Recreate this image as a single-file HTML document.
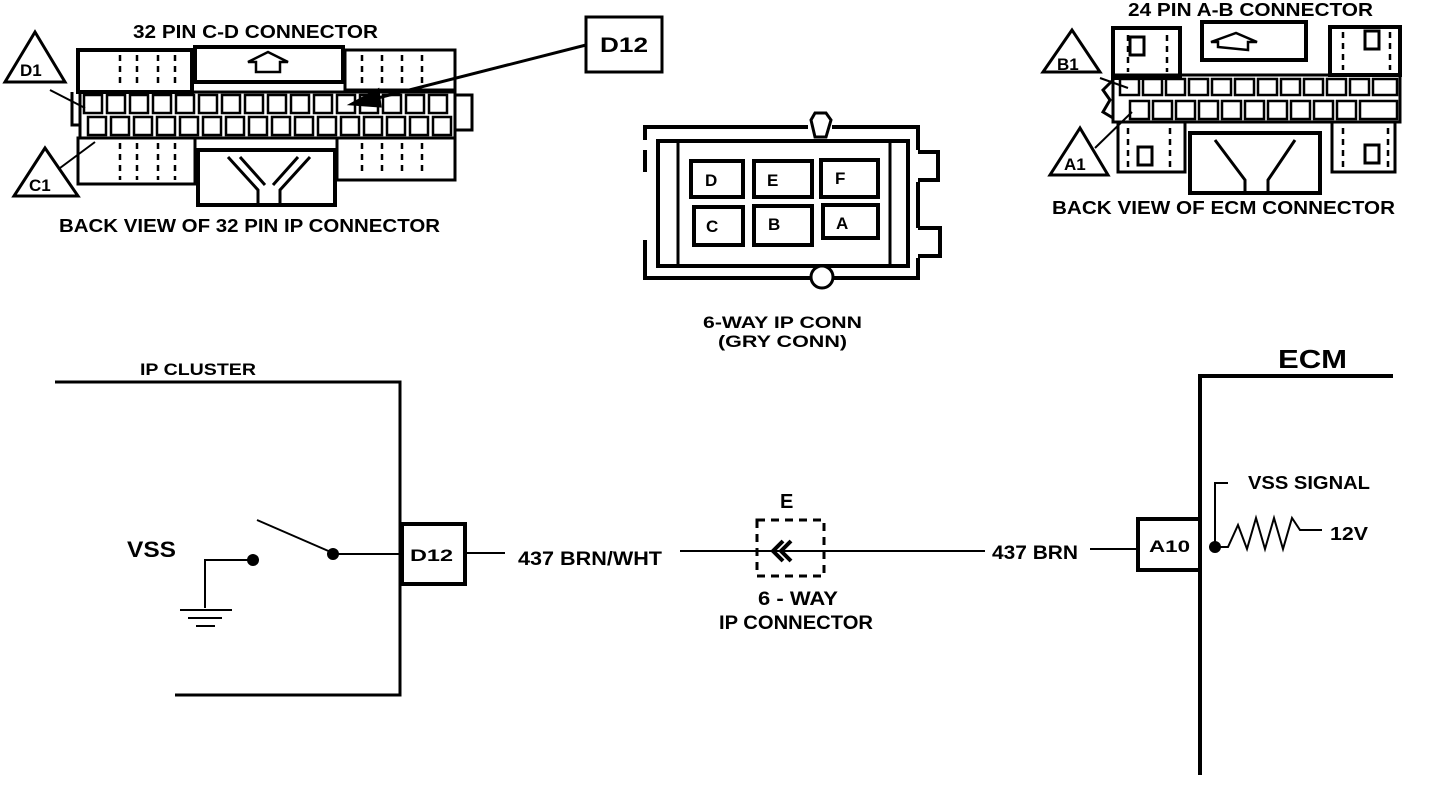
<!DOCTYPE html>
<html><head><meta charset="utf-8"><style>
html,body{margin:0;padding:0;background:#fff;}
svg{display:block;}
text{font-family:"Liberation Sans",sans-serif;font-weight:bold;fill:#000;}
</style></head><body>
<svg width="1456" height="794" viewBox="0 0 1456 794" xmlns="http://www.w3.org/2000/svg">
<g fill="none" stroke="#000" stroke-width="3">
<!-- LEFT CONNECTOR -->
<polygon points="35,32 5,82 65,82" stroke-width="3"/>
<polygon points="45,148 14,196 78,196"/>
<rect x="78" y="50" width="114" height="42" stroke-width="4"/>
<rect x="195" y="47" width="148" height="35" stroke-width="4"/>
<rect x="345" y="50" width="110" height="40"/>
<rect x="80" y="92" width="375" height="46"/>
<path d="M455,95 L472,95 L472,130 L455,130"/>
<path d="M72,92 L72,125 L80,125"/>
<rect x="78" y="138" width="117" height="46"/>
<rect x="337" y="138" width="118" height="42"/>
<rect x="198" y="150" width="137" height="55" stroke-width="4"/>
<path d="M228,157 L258,190 L258,204 M310,157 L280,190 L280,204 M240,157 L265,185 M298,157 L273,185" stroke-width="3"/>
<path d="M256,72 L256,62 L248,62 L268,52 L288,62 L280,62 L280,72 Z" stroke-width="2.5"/>
<g stroke-width="2.5" stroke-dasharray="6,5">
<line x1="120" y1="55" x2="120" y2="88"/><line x1="137" y1="55" x2="137" y2="88"/><line x1="158" y1="55" x2="158" y2="88"/><line x1="175" y1="55" x2="175" y2="88"/>
<line x1="362" y1="55" x2="362" y2="88"/><line x1="382" y1="55" x2="382" y2="88"/><line x1="402" y1="55" x2="402" y2="88"/><line x1="422" y1="55" x2="422" y2="88"/>
<line x1="120" y1="143" x2="120" y2="180"/><line x1="137" y1="143" x2="137" y2="180"/><line x1="158" y1="143" x2="158" y2="180"/><line x1="175" y1="143" x2="175" y2="180"/>
<line x1="362" y1="143" x2="362" y2="176"/><line x1="382" y1="143" x2="382" y2="176"/><line x1="402" y1="143" x2="402" y2="176"/><line x1="422" y1="143" x2="422" y2="176"/>
</g>
<g stroke-width="2.5">
<rect x="84" y="95" width="18" height="18"/><rect x="107" y="95" width="18" height="18"/><rect x="130" y="95" width="18" height="18"/><rect x="153" y="95" width="18" height="18"/><rect x="176" y="95" width="18" height="18"/><rect x="199" y="95" width="18" height="18"/><rect x="222" y="95" width="18" height="18"/><rect x="245" y="95" width="18" height="18"/><rect x="268" y="95" width="18" height="18"/><rect x="291" y="95" width="18" height="18"/><rect x="314" y="95" width="18" height="18"/><rect x="337" y="95" width="18" height="18"/><rect x="360" y="95" width="18" height="18"/><rect x="383" y="95" width="18" height="18"/><rect x="406" y="95" width="18" height="18"/><rect x="429" y="95" width="18" height="18"/>
<rect x="88" y="117" width="18" height="18"/><rect x="111" y="117" width="18" height="18"/><rect x="134" y="117" width="18" height="18"/><rect x="157" y="117" width="18" height="18"/><rect x="180" y="117" width="18" height="18"/><rect x="203" y="117" width="18" height="18"/><rect x="226" y="117" width="18" height="18"/><rect x="249" y="117" width="18" height="18"/><rect x="272" y="117" width="18" height="18"/><rect x="295" y="117" width="18" height="18"/><rect x="318" y="117" width="18" height="18"/><rect x="341" y="117" width="18" height="18"/><rect x="364" y="117" width="18" height="18"/><rect x="387" y="117" width="18" height="18"/><rect x="410" y="117" width="18" height="18"/><rect x="433" y="117" width="18" height="18"/>
</g>
<line x1="50" y1="90" x2="85" y2="108" stroke-width="2"/>
<line x1="60" y1="168" x2="95" y2="142" stroke-width="2"/>
<rect x="586" y="17" width="76" height="55" stroke-width="3"/>
<line x1="586" y1="45" x2="370" y2="100" stroke-width="3"/>
<polygon points="352,104 378,90 380,106" fill="#000"/>
<!-- RIGHT CONNECTOR -->
<polygon points="1072,30 1043,72 1100,72"/>
<polygon points="1080,128 1050,175 1108,175"/>
<rect x="1113" y="28" width="67" height="50" stroke-width="4"/>
<rect x="1202" y="22" width="104" height="38" stroke-width="4"/>
<rect x="1330" y="27" width="70" height="48" stroke-width="4"/>
<rect x="1113" y="75" width="287" height="47"/>
<path d="M1113,80 L1103,90 L1110,100 L1103,112 L1113,118"/>
<rect x="1118" y="122" width="67" height="50"/>
<rect x="1190" y="133" width="130" height="60" stroke-width="4"/>
<rect x="1332" y="122" width="63" height="50"/>
<rect x="1130" y="37" width="14" height="18"/><rect x="1365" y="31" width="14" height="18"/>
<rect x="1138" y="147" width="14" height="18"/><rect x="1365" y="145" width="14" height="18"/>
<path d="M1218,47 L1218,42 L1211,42 L1236,33 L1257,42 L1248,42 L1248,50 Z" stroke-width="2.5"/>
<path d="M1215,140 L1245,180 L1245,192 M1295,140 L1268,180 L1268,192" stroke-width="3"/>
<g stroke-width="2.5" stroke-dasharray="6,5">
<line x1="1128" y1="35" x2="1128" y2="72"/><line x1="1167" y1="35" x2="1167" y2="72"/>
<line x1="1343" y1="32" x2="1343" y2="70"/><line x1="1390" y1="32" x2="1390" y2="70"/>
<line x1="1128" y1="128" x2="1128" y2="168"/><line x1="1170" y1="128" x2="1170" y2="168"/>
<line x1="1343" y1="128" x2="1343" y2="168"/><line x1="1388" y1="128" x2="1388" y2="168"/>
</g>
<g stroke-width="2.5">
<rect x="1120" y="79" width="19" height="16"/><rect x="1143" y="79" width="19" height="16"/><rect x="1166" y="79" width="19" height="16"/><rect x="1189" y="79" width="19" height="16"/><rect x="1212" y="79" width="19" height="16"/><rect x="1235" y="79" width="19" height="16"/><rect x="1258" y="79" width="19" height="16"/><rect x="1281" y="79" width="19" height="16"/><rect x="1304" y="79" width="19" height="16"/><rect x="1327" y="79" width="19" height="16"/><rect x="1350" y="79" width="19" height="16"/><rect x="1373" y="79" width="24" height="16"/>
<rect x="1130" y="101" width="19" height="18"/><rect x="1153" y="101" width="19" height="18"/><rect x="1176" y="101" width="19" height="18"/><rect x="1199" y="101" width="19" height="18"/><rect x="1222" y="101" width="19" height="18"/><rect x="1245" y="101" width="19" height="18"/><rect x="1268" y="101" width="19" height="18"/><rect x="1291" y="101" width="19" height="18"/><rect x="1314" y="101" width="19" height="18"/><rect x="1337" y="101" width="19" height="18"/><rect x="1360" y="101" width="37" height="18"/>
</g>
<line x1="1100" y1="78" x2="1128" y2="88" stroke-width="2"/>
<line x1="1095" y1="148" x2="1132" y2="112" stroke-width="2"/>
<!-- 6-WAY CONNECTOR -->
<path d="M645,140 L645,127 L808,127 M832,127 L918,127 L918,150 M918,182 L918,228 M918,258 L918,278 L834,278 M810,278 L645,278 L645,240 M645,172 L645,150" stroke-width="4"/>
<rect x="658" y="141" width="250" height="125" stroke-width="4"/>
<line x1="678" y1="141" x2="678" y2="266" stroke-width="3"/>
<line x1="890" y1="141" x2="890" y2="266" stroke-width="3"/>
<path d="M918,152 L938,152 L938,180 L918,180 M918,228 L940,228 L940,256 L918,256" stroke-width="4"/>
<path d="M811,120 L815,113 L826,113 L831,120 L826,137 L815,137 Z" stroke-width="3" fill="#fff"/>
<circle cx="822" cy="277" r="11" fill="#fff" stroke-width="3"/>
<g stroke-width="4">
<rect x="691" y="161" width="52" height="36"/><rect x="754" y="161" width="58" height="36"/><rect x="821" y="160" width="57" height="37"/>
<rect x="694" y="207" width="49" height="38"/><rect x="754" y="206" width="58" height="39"/><rect x="823" y="205" width="55" height="33"/>
</g>
<!-- BOTTOM SCHEMATIC -->
<path d="M55,382 L400,382 L400,695 L175,695" stroke-width="3"/>
<rect x="402" y="524" width="63" height="60" stroke-width="4"/>
<line x1="465" y1="553" x2="505" y2="553" stroke-width="2"/>
<line x1="680" y1="551" x2="985" y2="551" stroke-width="2"/>
<rect x="757" y="520" width="67" height="56" stroke-width="3" stroke-dasharray="8,6"/>
<path d="M783,541 L773,551 L783,561 M791,541 L781,551 L791,561" stroke-width="4"/>
<line x1="1090" y1="549" x2="1138" y2="549" stroke-width="2"/>
<rect x="1138" y="519" width="62" height="51" stroke-width="4"/>
<path d="M1393,376 L1200,376 L1200,775" stroke-width="4"/>
<path d="M1228,483 L1215,483 L1215,547 L1228,547 L1238,525 L1247,549 L1256,518 L1265,549 L1274,518 L1283,549 L1292,518 L1300,530 L1322,530" stroke-width="2"/>
<circle cx="1215" cy="547" r="6" fill="#000" stroke="none"/>
<path d="M253,560 L205,560 L205,608" stroke-width="2"/>
<line x1="180" y1="610" x2="232" y2="610" stroke-width="2"/>
<line x1="188" y1="618" x2="222" y2="618" stroke-width="2"/>
<line x1="196" y1="626" x2="215" y2="626" stroke-width="2"/>
<line x1="257" y1="520" x2="333" y2="553" stroke-width="2"/>
<line x1="333" y1="554" x2="400" y2="554" stroke-width="2"/>
<circle cx="253" cy="560" r="6" fill="#000" stroke="none"/>
<circle cx="333" cy="554" r="6" fill="#000" stroke="none"/>
</g>
<!-- TEXT -->
<g font-size="18" lengthAdjust="spacingAndGlyphs">
<text x="133" y="38" textLength="245" lengthAdjust="spacingAndGlyphs">32 PIN C-D  CONNECTOR</text>
<text x="59" y="232" textLength="381" lengthAdjust="spacingAndGlyphs">BACK VIEW OF 32 PIN IP CONNECTOR</text>
<text x="1128" y="16" textLength="245" lengthAdjust="spacingAndGlyphs">24 PIN A-B  CONNECTOR</text>
<text x="1052" y="214" textLength="343" lengthAdjust="spacingAndGlyphs">BACK VIEW OF ECM  CONNECTOR</text>
<text x="703" y="328" font-size="17" textLength="159" lengthAdjust="spacingAndGlyphs">6-WAY IP CONN</text>
<text x="718" y="347" font-size="17" textLength="129" lengthAdjust="spacingAndGlyphs">(GRY CONN)</text>
<text x="140" y="375" font-size="17" textLength="116" lengthAdjust="spacingAndGlyphs">IP CLUSTER</text>
<text x="518" y="565" font-size="19" textLength="144" lengthAdjust="spacingAndGlyphs">437 BRN/WHT</text>
<text x="992" y="559" font-size="19" textLength="86" lengthAdjust="spacingAndGlyphs">437 BRN</text>
<text x="758" y="605" font-size="19" textLength="80" lengthAdjust="spacingAndGlyphs">6 - WAY</text>
<text x="719" y="629" font-size="19" textLength="154" lengthAdjust="spacingAndGlyphs">IP CONNECTOR</text>
<text x="1248" y="489" textLength="122" lengthAdjust="spacingAndGlyphs">VSS SIGNAL</text>
<text x="1330" y="540" textLength="38" lengthAdjust="spacingAndGlyphs">12V</text>
</g>
<g font-size="17">
<text x="20" y="76">D1</text>
<text x="29" y="191">C1</text>
<text x="1057" y="70">B1</text>
<text x="1064" y="170">A1</text>
</g>
<text x="600" y="52" font-size="21" textLength="48" lengthAdjust="spacingAndGlyphs">D12</text>
<text x="410" y="561" font-size="17" textLength="43" lengthAdjust="spacingAndGlyphs">D12</text>
<text x="1149" y="552" font-size="17" textLength="41" lengthAdjust="spacingAndGlyphs">A10</text>
<text x="127" y="557" font-size="22" textLength="49" lengthAdjust="spacingAndGlyphs">VSS</text>
<text x="1278" y="368" font-size="26" textLength="69" lengthAdjust="spacingAndGlyphs">ECM</text>
<text x="780" y="508" font-size="20">E</text>
<g font-size="17">
<text x="705" y="186">D</text><text x="767" y="186">E</text><text x="835" y="184">F</text>
<text x="706" y="232">C</text><text x="768" y="230">B</text><text x="836" y="229">A</text>
</g>
</svg>
</body></html>
